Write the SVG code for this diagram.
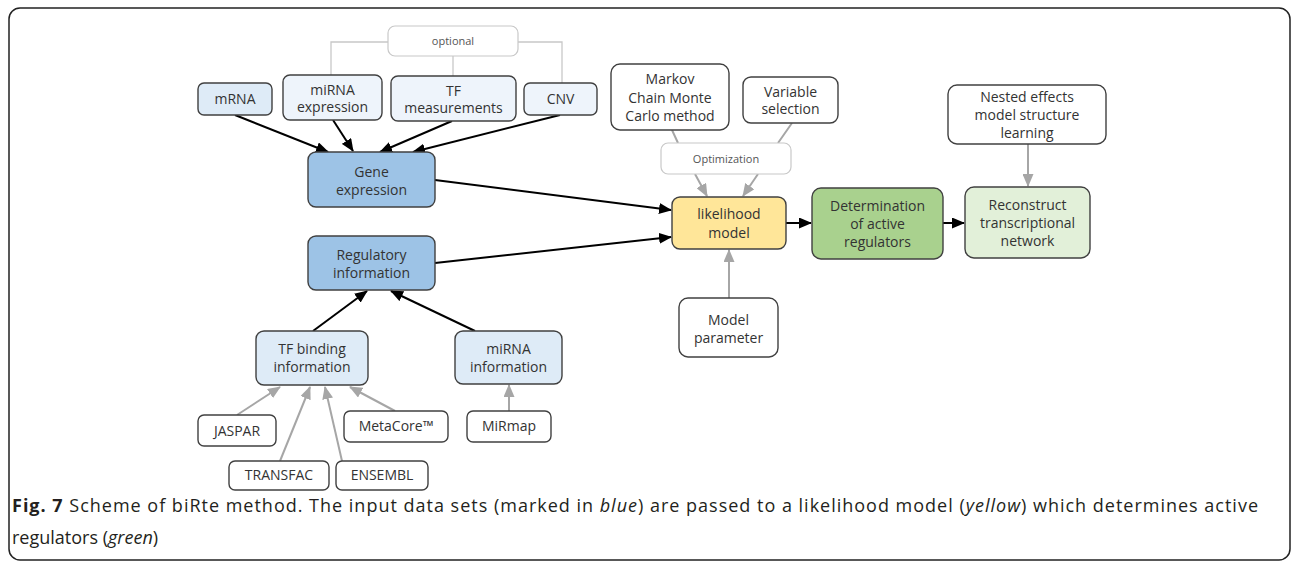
<svg xmlns="http://www.w3.org/2000/svg" width="1293" height="563" viewBox="0 0 1293 563">
<style>
.n rect{stroke:#404040;stroke-width:1.4}
.n text,.t{font-family:"Open Sans","Noto Sans",sans-serif;font-size:14px;fill:#333;text-anchor:middle}
.s text{font-size:11px;fill:#555}
.s rect{stroke:#c8c8c8;stroke-width:1.2;fill:#fff}
.w{fill:#fff}
.b1{fill:#9DC3E6}
.b2{fill:#DEEBF7}
.b3{fill:#EEF4FB}
.k{stroke:#000;stroke-width:2;fill:none}
.g{stroke:#A6A6A6;stroke-width:2;fill:none}
.o{stroke:#c8c8c8;stroke-width:1.3;fill:none}
.cap{font-family:"Open Sans","Noto Sans",sans-serif;font-size:18px;fill:#231F20}
</style>
<defs>
<marker id="ak" markerUnits="userSpaceOnUse" markerWidth="13" markerHeight="11" refX="12" refY="5.5" orient="auto"><path d="M0,0 L13,5.5 L0,11 z" fill="#000"/></marker>
<marker id="ag" markerUnits="userSpaceOnUse" markerWidth="13" markerHeight="11" refX="12" refY="5.5" orient="auto"><path d="M0,0 L13,5.5 L0,11 z" fill="#A6A6A6"/></marker>
</defs>
<rect x="9" y="8" width="1281" height="552" rx="11" fill="#fff" stroke="#222" stroke-width="1.5"/>

<g id="connectors">
<path class="o" d="M388,42 H331 V75 M453,56 V76 M518,42 H562 V83"/>
<path class="o" d="M672,130 L678,143 M792,123 L778,143" style="stroke:#A6A6A6;stroke-width:2"/>
<line class="k" x1="235" y1="115" x2="328" y2="152" marker-end="url(#ak)"/>
<line class="k" x1="333" y1="120" x2="353" y2="151" marker-end="url(#ak)"/>
<line class="k" x1="452" y1="121" x2="380" y2="152" marker-end="url(#ak)"/>
<line class="k" x1="560" y1="115" x2="413" y2="152" marker-end="url(#ak)"/>
<line class="k" x1="435" y1="180" x2="671" y2="210" marker-end="url(#ak)"/>
<line class="k" x1="435" y1="263" x2="671" y2="237" marker-end="url(#ak)"/>
<line class="k" x1="313" y1="331" x2="367" y2="291" marker-end="url(#ak)"/>
<line class="k" x1="475" y1="331" x2="391" y2="291" marker-end="url(#ak)"/>
<line class="k" x1="786" y1="223" x2="811" y2="223" marker-end="url(#ak)"/>
<line class="k" x1="943" y1="223" x2="964" y2="223" marker-end="url(#ak)"/>
<line class="g" x1="695" y1="174" x2="707" y2="196" marker-end="url(#ag)"/>
<line class="g" x1="758" y1="174" x2="743" y2="196" marker-end="url(#ag)"/>
<line class="g" x1="1028" y1="144" x2="1028" y2="186" marker-end="url(#ag)"/>
<line class="g" x1="729" y1="298" x2="729" y2="250" marker-end="url(#ag)"/>
<line class="g" x1="237" y1="415" x2="280" y2="387" marker-end="url(#ag)"/>
<line class="g" x1="280" y1="461" x2="310" y2="387" marker-end="url(#ag)"/>
<line class="g" x1="342" y1="461" x2="325" y2="387" marker-end="url(#ag)"/>
<line class="g" x1="395" y1="411" x2="350" y2="387" marker-end="url(#ag)"/>
<line class="g" x1="509" y1="411" x2="509" y2="385" marker-end="url(#ag)"/>
</g>

<g id="optional" class="n s"><rect x="388" y="26" width="130" height="30" rx="7"/><text x="453" y="45">optional</text></g>
<g id="mrna" class="n"><rect class="b2" x="198" y="83" width="74" height="32" rx="6"/><text x="235" y="104">mRNA</text></g>
<g id="mirna-expression" class="n"><rect class="b3" x="283" y="75" width="99" height="45" rx="7"/><text x="332.5" y="95">miRNA</text><text x="332.5" y="112">expression</text></g>
<g id="tf-measurements" class="n"><rect class="b3" x="391" y="76" width="125" height="45" rx="7"/><text x="453.5" y="96">TF</text><text x="453.5" y="113">measurements</text></g>
<g id="cnv" class="n"><rect class="b3" x="524" y="83" width="73" height="32" rx="6"/><text x="560.5" y="104">CNV</text></g>
<g id="gene-expression" class="n"><rect class="b1" x="308" y="152" width="127" height="55" rx="8"/><text x="371.5" y="177">Gene</text><text x="371.5" y="195">expression</text></g>
<g id="markov" class="n"><rect class="w" x="611" y="64" width="118" height="66" rx="9"/><text x="670" y="84">Markov</text><text x="670" y="103">Chain Monte</text><text x="670" y="121">Carlo method</text></g>
<g id="variable-selection" class="n"><rect class="w" x="743" y="77" width="95" height="46" rx="8"/><text x="790.5" y="97">Variable</text><text x="790.5" y="114">selection</text></g>
<g id="optimization" class="n s"><rect x="661" y="143" width="130" height="31" rx="7"/><text x="726" y="163">Optimization</text></g>
<g id="likelihood" class="n"><rect x="672" y="197" width="114" height="52" rx="8" fill="#FFE699"/><text x="729" y="219">likelihood</text><text x="729" y="238">model</text></g>
<g id="determination" class="n"><rect x="812" y="188" width="131" height="71" rx="9" fill="#A9D18E"/><text x="877.5" y="211">Determination</text><text x="877.5" y="229">of active</text><text x="877.5" y="247">regulators</text></g>
<g id="reconstruct" class="n"><rect x="965" y="187" width="125" height="71" rx="9" fill="#E2F0D9"/><text x="1027.5" y="210">Reconstruct</text><text x="1027.5" y="228">transcriptional</text><text x="1027.5" y="246">network</text></g>
<g id="nested-effects" class="n"><rect class="w" x="948" y="85" width="158" height="59" rx="9"/><text x="1027" y="102">Nested effects</text><text x="1027" y="120">model structure</text><text x="1027" y="138">learning</text></g>
<g id="regulatory" class="n"><rect class="b1" x="308" y="236" width="127" height="54" rx="8"/><text x="371.5" y="260">Regulatory</text><text x="371.5" y="278">information</text></g>
<g id="tf-binding" class="n"><rect class="b2" x="256" y="331" width="112" height="54" rx="8"/><text x="312" y="354">TF binding</text><text x="312" y="372">information</text></g>
<g id="mirna-information" class="n"><rect class="b2" x="455" y="331" width="107" height="53" rx="8"/><text x="508.5" y="354">miRNA</text><text x="508.5" y="372">information</text></g>
<g id="jaspar" class="n"><rect class="w" x="198" y="415" width="78" height="31" rx="6"/><text x="237" y="436">JASPAR</text></g>
<g id="metacore" class="n"><rect class="w" x="344" y="411" width="104" height="31" rx="6"/><text x="396" y="431">MetaCore™</text></g>
<g id="mirmap" class="n"><rect class="w" x="467" y="411" width="84" height="31" rx="6"/><text x="509" y="431">MiRmap</text></g>
<g id="transfac" class="n"><rect class="w" x="229" y="461" width="100" height="29" rx="6"/><text x="279" y="480">TRANSFAC</text></g>
<g id="ensembl" class="n"><rect class="w" x="336" y="461" width="92" height="29" rx="6"/><text x="382" y="480">ENSEMBL</text></g>
<g id="model-parameter" class="n"><rect class="w" x="679" y="298" width="99" height="59" rx="9"/><text x="728.5" y="325">Model</text><text x="728.5" y="343">parameter</text></g>

<g id="caption">
<text class="cap" x="12" y="512" textLength="1246" lengthAdjust="spacing"><tspan font-weight="bold">Fig. 7</tspan> Scheme of biRte method. The input data sets (marked in <tspan font-style="italic">blue</tspan>) are passed to a likelihood model (<tspan font-style="italic">yellow</tspan>) which determines active</text>
<text class="cap" x="12" y="544">regulators (<tspan font-style="italic">green</tspan>)</text>
</g>
</svg>
